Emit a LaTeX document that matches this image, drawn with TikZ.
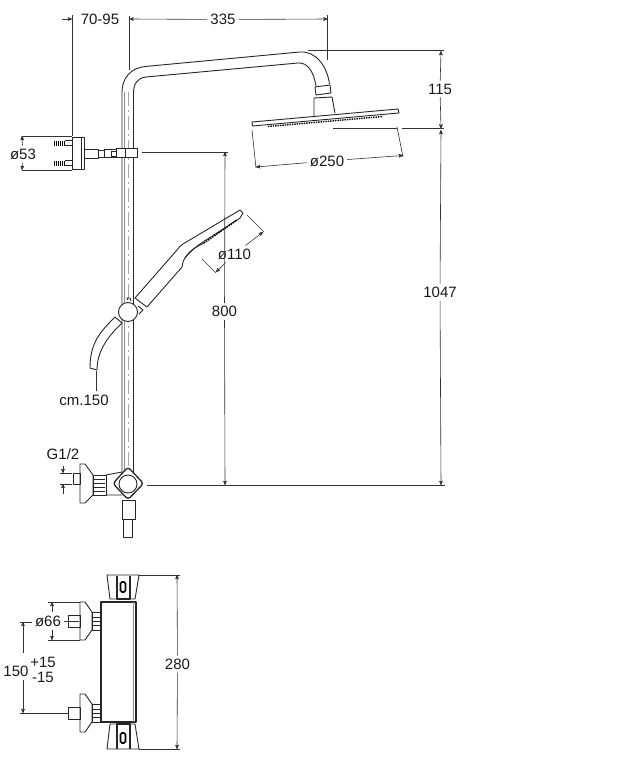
\documentclass[tikz,border=0pt]{standalone}
\usepackage{fontspec}
\setmainfont{Liberation Sans}
\usepackage{tikz}
\usetikzlibrary{calc,arrows,positioning}
\tikzset{
>=stealth',
  outline/.style={draw=black!85, line width=.9pt, line join=round},
  heavy/.style={draw=black, line width=1.6pt},
  faint/.style={draw=black!45, line width=.7pt},
  axisline/.style={draw=black!35, line width=.7pt, dash pattern=on 14pt off 4pt on 2pt off 4pt},
  extline/.style={draw=black!80, line width=.6pt},
  dimline/.style={draw=black!80, line width=.6pt, ->, shorten >=0pt},
  dimlabel/.style={font=\fontsize{15}{17}\selectfont, inner sep=3pt, text=black!90},
}
\begin{document}
\begin{tikzpicture}[x=1pt,y=-1pt]
  \useasboundingbox (0,0) rectangle (622,760);
  % labels
  \node[dimlabel] (lab7095) at (100,19.5) {70-95};
  \node[dimlabel] (lab335) at (223,19.5) {335};
  \node[dimlabel] (lab115) at (440,89) {115};
  \node[dimlabel] (lab1047) at (440,292.5) {1047};
  \node[dimlabel] (lab800) at (224.5,311.5) {800};
  \node[dimlabel] (lab250) at (327,161) {ø250};
  \node[dimlabel] (lab110) at (234.5,254) {ø110};
  \node[dimlabel] (lab53) at (23,154) {ø53};
  \node[dimlabel] (labhose) at (84,400) {cm.150};
  \node[dimlabel] (labg) at (63,454.5) {G1/2};
  \node[dimlabel] (lab66) at (48,621) {ø66};
  \node[dimlabel] (lab280) at (177.5,664) {280};
  \node[dimlabel, inner sep=0pt] (lab150) at (16,671) {150};
  \node[dimlabel, inner sep=0pt] (labplus) at (43,662) {+15};
  \node[dimlabel, inner sep=0pt] (labminus) at (43,677) {-15};

  % column and arm
  \draw[axisline] (128,92) -- (128,470);
  \draw[faint] (124.5,92) -- (124.5,472);
  \draw[outline] (122,472) -- (122,92) .. controls (122,78) and (131,68) .. (145,66.5)
    -- (300,52) .. controls (316,51) and (327,66) .. (329.5,84);
  \draw[outline] (133.5,472) -- (133.5,94) .. controls (133.5,84) and (137,78) .. (146,77)
    -- (298,63) .. controls (308,62) and (314,73) .. (316,86);
  % head
  \draw[outline] (315,87) -- (330,85) -- (331,93) -- (316,95) -- cycle;
  \draw[outline] (314,116) -- (314,98) -- (332,97) -- (335,113);
  \draw[outline,fill=white] (252,122) -- (398,109) -- (399,113) -- (252.5,126) -- cycle;
  \draw[heavy,line width=1.4pt,densely dotted] (268,126.5) -- (383,116.5);

  % wall bracket
  \draw[outline] (72,137) rectangle (84,169);
  \draw[outline] (81,137) -- (81,169);
  \foreach \y in {143,163} {
    \draw[heavy,line width=5pt,dash pattern=on 1.4pt off .6pt] (54,\y) -- (65,\y);
    \draw[outline] (65,\y-2.5) -- (72,\y-2.5) (65,\y+2.5) -- (72,\y+2.5);
  }
  \draw[outline] (84,149) rectangle (98,158);
  \draw[outline] (98,150.5) rectangle (104,157);
  \draw[outline] (104,149) rectangle (116,157.5);
  \draw[outline] (111,151) rectangle (116,156);
  \draw[outline,fill=white] (116,148.5) rectangle (137,157.5);
  \draw[outline] (125,148.5) -- (125,157.5);

  % hand shower
  \draw[outline] (135,298) -- (177,250) .. controls (179,247) and (180,246) .. (183,244)
    -- (240,210) -- (243,213) -- (240,218) -- (203,242) .. controls (195,247) and (188,254) .. (185,258)
    .. controls (182,262) and (183,265) .. (182,267) -- (147,307) -- cycle;
  \draw[heavy,line width=1.5pt,densely dotted] (204,243) -- (237,220);
  \draw[outline] (185,258) .. controls (190,250) and (196,247) .. (204,243);

  % holder and hose
  \draw[outline,fill=white] (128,300) -- (127,298) -- (130,298) -- (131,301);
  \draw[outline,fill=white] (138,306) -- (143,310) -- (139,314);
  \draw[outline,fill=white] (128,312) circle (9.5);
  \draw[outline] (115,317) .. controls (100,332) and (90,343) .. (90,368);
  \draw[outline] (90,368) -- (97,370);
  \draw[outline] (97,370) .. controls (97,352) and (107,337) .. (122,323);
  \draw[outline] (115,317) -- (122,323);

  % valve on the column
  \draw[outline] (73,473) rectangle (80,484);
  \draw[outline] (80,464) -- (85,464) -- (93,475) -- (93,495) -- (85,503) -- (80,503) -- cycle;
  \draw[outline] (93,475) rectangle (106,495);
  \foreach \y in {479,483,487,491} \draw[outline,line width=.7pt] (94,\y) -- (105,\y);
  \draw[outline] (106,475) -- (122,472) (106,495) -- (122,495);
  \draw[outline,line width=1.3pt,fill=white,rounded corners=3pt] (128,467) -- (143.5,483.5) -- (128,499.5) -- (113,483.5) -- cycle;
  \draw[outline] (128,484) circle (9);
  \draw[outline] (122,500) rectangle (135,519);
  \draw[outline] (123,519) rectangle (132,537);

  % thermostatic body
  \draw[outline,line width=1.3pt] (101,602) rectangle (136,722);
  \draw[faint] (133,602) -- (133,722);
  \foreach \ya/\yb/\yc/\yd/\ye/\yf in {575/599/576/599/582/592, 749/724/749/724/733/743} {
    \draw[outline] (107,\ya) -- (139,\ya) -- (135,\yb) -- (110,\yb) -- cycle;
    \draw[outline,line width=1.2pt] (117,\yc) -- (117,\yd) -- (130,\yd) -- (130,\yc);
    \draw[heavy,rounded corners=1.5pt] (120.5,\ye) rectangle (125.5,\yf);
  }
  % side fittings, top and bottom
  \foreach \y in {0,92} {
    \draw[outline] (68,615+\y) rectangle (80,627+\y);
    \draw[outline] (80,602+\y) -- (85,602+\y) -- (92,612+\y) -- (92,630+\y) -- (85,640+\y) -- (80,640+\y) -- cycle;
    \draw[outline] (92,612+\y) rectangle (101,630+\y);
    \foreach \z in {617,621,625} \draw[outline,line width=.7pt] (93,\z+\y) -- (100,\z+\y);
  }

  % dimensions
  \coordinate (ext7095) at (72,19);
  \coordinate (stub7095) at (62,19);
  \coordinate (ext335l) at (129.5,19);
  \coordinate (ext335r) at (327.5,19);
  \draw[extline] (72,15) -- (72,136);
  \draw[dimline] (stub7095) -- (ext7095);
  \draw[extline] (129.5,16) -- (129.5,70);
  \draw[extline] (327.5,15) -- (327.5,60);
  \draw[dimline] (lab335) -- (ext335l);
  \draw[dimline] (lab335) -- (ext335r);

  \coordinate (top115) at (441,51);
  \coordinate (mid115) at (441,128.5);
  \coordinate (bot1047) at (441,485);
  \draw[extline] (308,50.5) -- (444,50.5);
  \draw[extline] (333,128.5) -- (397,128.5) (402,128.5) -- (444,128.5);
  \draw[extline] (147,485) -- (445,485);
  \draw[dimline] (lab115) -- (top115);
  \draw[dimline] (lab115) -- (mid115);
  \draw[dimline] (lab1047) -- (441,130);
  \draw[dimline] (lab1047) -- (bot1047);

  \coordinate (top800) at (225,152);
  \coordinate (bot800) at (225,485);
  \draw[extline] (142,152) -- (228,152);
  \draw[dimline] (lab800) -- (top800);
  \draw[dimline] (lab800) -- (bot800);

  \coordinate (l250) at (256,167);
  \coordinate (r250) at (403,155.5);
  \draw[extline] (252,130) -- (256,168) (397,127) -- (403,157);
  \draw[dimline] (lab250) -- (l250);
  \draw[dimline] (lab250) -- (r250);

  \coordinate (l110) at (216,272);
  \coordinate (r110) at (263,232);
  \draw[extline] (202,259) -- (216,273) (247,215) -- (264,232);
  \draw[dimline] (lab110) -- (l110);
  \draw[dimline] (lab110) -- (r110);

  \coordinate (top53) at (22,136);
  \coordinate (bot53) at (22,170);
  \draw[extline] (22,136) -- (72,136) (22,170) -- (72,170);
  \draw[dimline] (lab53) -- (top53);
  \draw[dimline] (lab53) -- (bot53);

  \coordinate (hosetip) at (96,371);
  \draw[extline] (labhose.north -| hosetip) -- (hosetip);

  \coordinate (g1) at (63,473);
  \coordinate (g2) at (63,484);
  \draw[extline] (60,473) -- (72,473) (60,484) -- (72,484);
  \draw[dimline] (63,466) -- (g1);
  \draw[dimline] (63,494) -- (g2);

  \coordinate (top66) at (52,602);
  \coordinate (bot66) at (52,640);
  \draw[extline] (48,602) -- (80,602) (48,640) -- (80,640);
  \draw[dimline] (lab66.north -| top66) -- (top66);
  \draw[dimline] (lab66.south -| bot66) -- (bot66);
  \draw[extline] (lab66.east) -- (79,621);

  \coordinate (top150) at (23,622);
  \coordinate (bot150) at (23,713);
  \draw[extline] (20,622) -- (32,622) (20,713) -- (68,713);
  \draw[dimline] (23,653) -- (top150);
  \draw[dimline] (23,680) -- (bot150);

  \coordinate (top280) at (177,575);
  \coordinate (bot280) at (177,749);
  \draw[extline] (139,575) -- (180,575) (139,749) -- (180,749);
  \draw[dimline] (lab280) -- (top280);
  \draw[dimline] (lab280) -- (bot280);
\end{tikzpicture}
\end{document}
